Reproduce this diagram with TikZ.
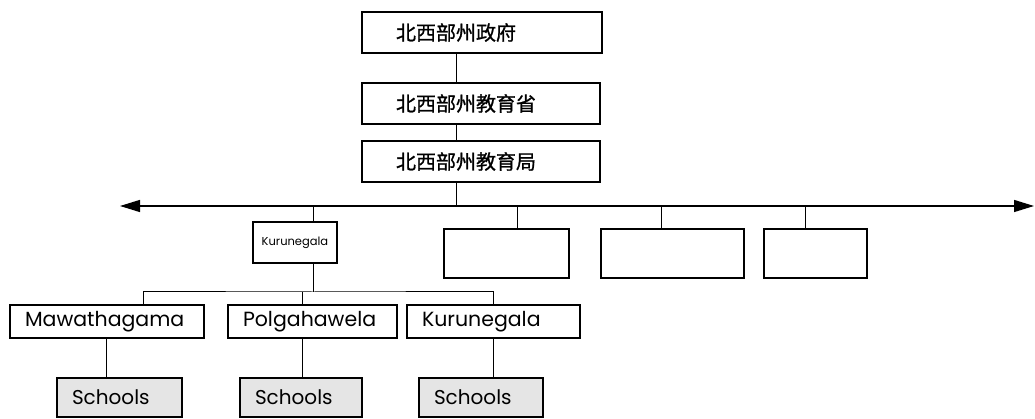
\documentclass[tikz,border=0pt]{standalone}
\usepackage{fontspec}
\setmainfont{Poppins}
\newfontfamily\cjk[FakeBold=1]{Noto Sans CJK SC}
\usetikzlibrary{arrows.meta}

\begin{document}
\begin{tikzpicture}[x=1pt,y=-1pt,
        govbox/.style={draw,line width=1.6pt,minimum height=41pt,inner xsep=34pt,inner ysep=0pt,align=left,font=\cjk\fontsize{20}{24}\selectfont},
        distbox/.style={draw,line width=1.6pt,minimum height=49pt,inner sep=0pt},
        zonebox/.style={draw,line width=1.6pt,minimum height=33pt,inner xsep=15pt,inner ysep=0pt,align=left,font=\fontsize{20.5}{24}\selectfont},
        schoolbox/.style={draw,line width=1.6pt,fill=black!10,minimum height=39pt,inner xsep=15pt,inner ysep=0pt,align=left,font=\fontsize{20}{24}\selectfont},
        link/.style={line width=1pt}]
    \useasboundingbox (0,0) rectangle (1035,419);

    \node[govbox,text width=172pt] (gov) at (482,32.5) {北西部州政府};
    \node[govbox,text width=170pt] (min) at (481,103.5) {北西部州教育省};
    \node[govbox,text width=170pt] (dept) at (481,161.5) {北西部州教育局};

    \coordinate (busL) at (120,206);
    \coordinate (busR) at (1034,206);

    \node[distbox,minimum width=84pt,minimum height=41pt,font=\fontsize{11.5}{14}\selectfont] (kur) at (295,242.5) {Kurunegala};
    \node[distbox,minimum width=125pt] (b1) at (506.5,253.5) {};
    \node[distbox,minimum width=143pt] (b2) at (672.5,253.5) {};
    \node[distbox,minimum width=103pt] (b3) at (815.5,253.5) {};

    \node[zonebox,text width=164pt] (maw) at (107,321.5) {Mawathagama};
    \node[zonebox,text width=139pt] (pol) at (312.5,321.5) {Polgahawela};
    \node[zonebox,text width=143pt] (kur2) at (493.5,321.5) {Kurunegala};

    \node[schoolbox,text width=95pt] (s1) at (119.5,397.5) {Schools};
    \node[schoolbox,text width=92pt] (s2) at (301,397.5) {Schools};
    \node[schoolbox,text width=94pt] (s3) at (481,397.5) {Schools};

    \coordinate (top) at (456,0);
    \coordinate (k) at (313,0);
    \coordinate (t1) at (517,0);
    \coordinate (t2) at (661,0);
    \coordinate (t3) at (805,0);
    \coordinate (fork) at (313,292);
    \coordinate (dm) at (143,0);
    \coordinate (dp) at (302,0);
    \coordinate (dk) at (493,0);
    \coordinate (sm) at (106,0);

    \draw[link] (gov.south -| top) -- (min.north -| top);
    \draw[link] (min.south -| top) -- (dept.north -| top);
    \draw[link] (dept.south -| top) -- (busL -| top);
    \draw[line width=1.4pt,{Triangle[length=20pt,width=12pt]}-{Triangle[length=20pt,width=12pt]}] (busL) -- (busR);

    \draw[link] (busL -| k) -- (kur.north -| k);
    \draw[link] (busL -| t1) -- (b1.north -| t1);
    \draw[link] (busL -| t2) -- (b2.north -| t2);
    \draw[link] (busL -| t3) -- (b3.north -| t3);

    \draw[link] (kur.south -| fork) -- (fork);
    \draw[link] (maw.north -| dm) |- (fork) -| (kur2.north -| dk);
    \draw[link] (fork -| dp) -- (pol.north -| dp);

    \draw[link] (maw.south -| sm) -- (s1.north -| sm);
    \draw[link] (pol.south -| dp) -- (s2.north -| dp);
    \draw[link] (kur2.south -| dk) -- (s3.north -| dk);
\end{tikzpicture}
\end{document}
